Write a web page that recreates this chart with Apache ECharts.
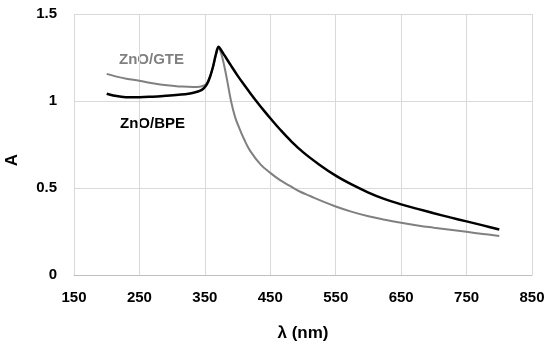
<!DOCTYPE html>
<html>
<head>
<meta charset="utf-8">
<script src="https://cdn.jsdelivr.net/npm/echarts@6/dist/echarts.min.js"></script>
<style>html,body{margin:0;padding:0;background:#fff;}#c{width:550px;height:347px;}</style>
</head>
<body>
<div id="c"></div>
<script>
const xTicks = [150, 250, 350, 450, 550, 650, 750, 850];
const yTicks = [0, 0.5, 1, 1.5];

const bpeWavelength = [200, 210, 220, 235, 250, 270, 290, 310, 325, 335, 342, 348, 353, 358, 363, 367, 371, 375, 380, 390, 400, 410, 420, 430, 440, 450, 465, 480, 500, 525, 550, 575, 600, 625, 650, 675, 700, 725, 750, 775, 800];
const bpeAbs = [1.042, 1.032, 1.026, 1.022, 1.022, 1.025, 1.030, 1.036, 1.042, 1.050, 1.058, 1.072, 1.095, 1.14, 1.205, 1.27, 1.312, 1.292, 1.262, 1.203, 1.146, 1.093, 1.042, 0.993, 0.946, 0.901, 0.836, 0.776, 0.706, 0.634, 0.571, 0.519, 0.474, 0.436, 0.406, 0.380, 0.355, 0.331, 0.308, 0.285, 0.262];

const gteWavelength = [200, 215, 230, 250, 270, 292, 310, 332, 342, 348, 353, 358, 363, 367, 371, 375, 380, 384, 390, 396, 402, 410, 419, 435, 450, 465, 480, 495, 511, 530, 550, 575, 600, 625, 650, 675, 700, 725, 750, 775, 800];
const gteAbs = [1.156, 1.14, 1.128, 1.116, 1.102, 1.090, 1.084, 1.080, 1.082, 1.088, 1.102, 1.14, 1.205, 1.265, 1.302, 1.272, 1.195, 1.12, 1.0, 0.91, 0.85, 0.78, 0.715, 0.636, 0.587, 0.545, 0.512, 0.48, 0.454, 0.423, 0.394, 0.363, 0.338, 0.318, 0.300, 0.285, 0.272, 0.26, 0.248, 0.236, 0.224];

const seriesNames = ['ZnO/GTE', 'ZnO/BPE'];
const xTitle = 'λ (nm)';
const yTitle = 'A';

const pairs = (xs, ys) => xs.map((x, i) => [x, ys[i]]);
const font = '"Liberation Sans", Arial, sans-serif';

const chart = echarts.init(document.getElementById('c'), null, {renderer: 'canvas'});
chart.setOption({
  animation: false,
  backgroundColor: '#ffffff',
  grid: {left: 74, right: 18, top: 14, bottom: 71, containLabel: false},
  xAxis: {
    type: 'value', min: xTicks[0], max: xTicks[xTicks.length - 1], interval: 100,
    name: xTitle, nameLocation: 'middle', nameGap: 50,
    nameTextStyle: {fontFamily: font, fontWeight: 'bold', fontSize: 17, color: '#000'},
    axisLine: {show: true, lineStyle: {color: '#bfbfbf', width: 1}},
    axisTick: {show: false},
    axisLabel: {fontFamily: font, fontWeight: 'bold', fontSize: 15, color: '#000', margin: 15},
    splitLine: {show: true, lineStyle: {color: '#d9d9d9', width: 1}}
  },
  yAxis: {
    type: 'value', min: yTicks[0], max: yTicks[yTicks.length - 1], interval: 0.5,
    axisLine: {show: false},
    axisTick: {show: false},
    axisLabel: {fontFamily: font, fontWeight: 'bold', fontSize: 15, color: '#000', margin: 17},
    splitLine: {show: true, lineStyle: {color: '#d9d9d9', width: 1}}
  },
  graphic: [
    {type: 'text', left: 119, top: 52, style: {text: seriesNames[0], fill: '#808080', font: 'bold 15px ' + font}},
    {type: 'text', left: 120, top: 116, style: {text: seriesNames[1], fill: '#000000', font: 'bold 15px ' + font}},
    {type: 'text', x: 12.5, y: 160, rotation: Math.PI / 2, style: {text: yTitle, fill: '#000', font: 'bold 17px ' + font, align: 'center', verticalAlign: 'middle'}}
  ],
  series: [
    {name: seriesNames[0], type: 'line', data: pairs(gteWavelength, gteAbs), smooth: 0.4, showSymbol: false,
     lineStyle: {color: '#808080', width: 2}, z: 2},
    {name: seriesNames[1], type: 'line', data: pairs(bpeWavelength, bpeAbs), smooth: 0.4, showSymbol: false,
     lineStyle: {color: '#000000', width: 2.5}, z: 3}
  ]
});
</script>
</body>
</html>
